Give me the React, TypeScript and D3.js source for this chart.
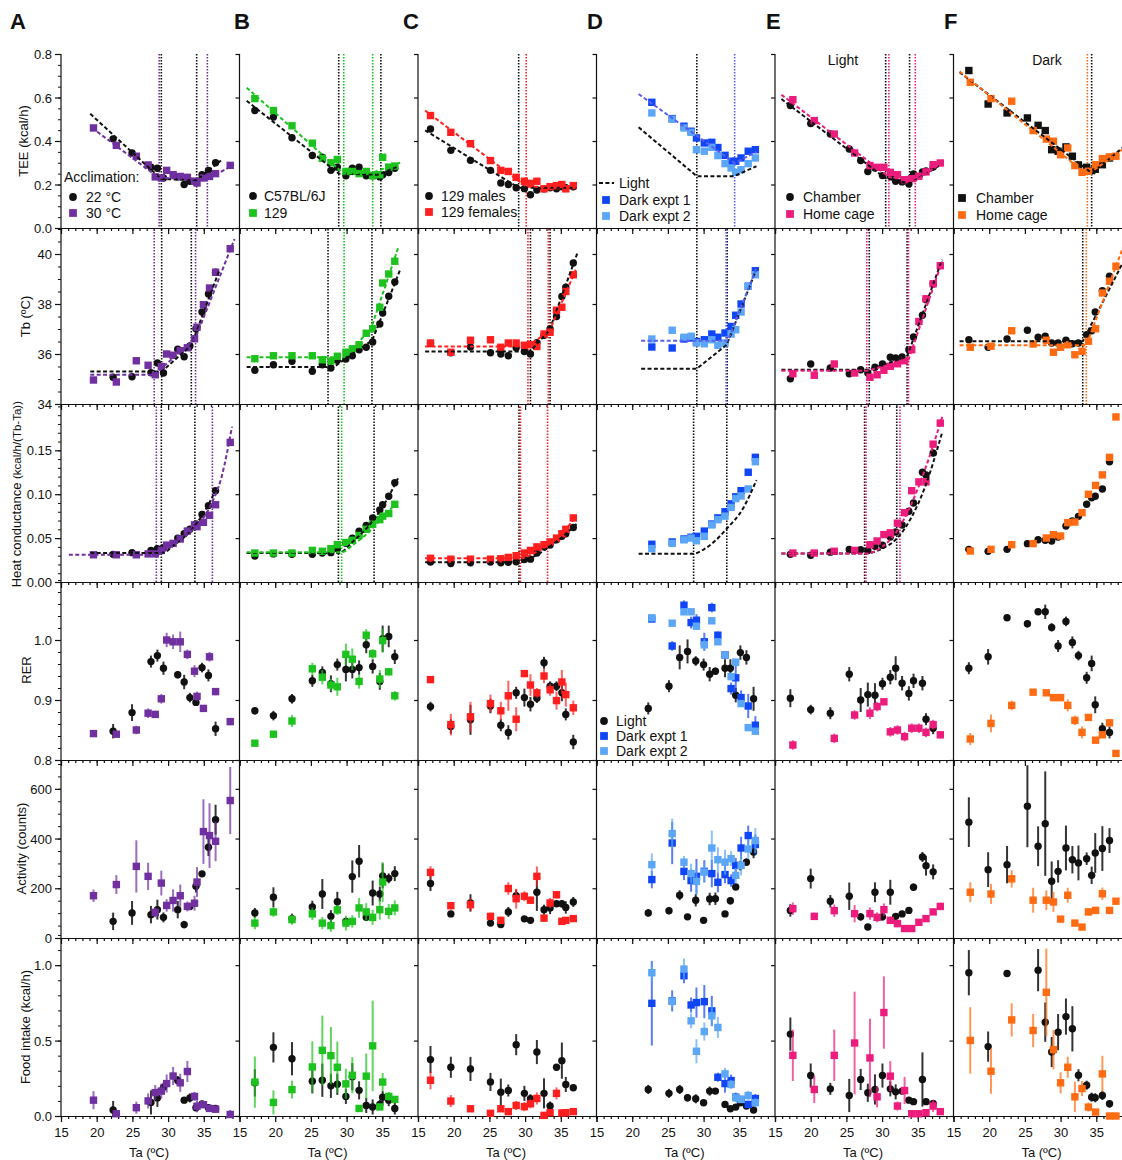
import React, { useEffect, useRef } from 'react';
import * as d3 from 'd3';

// colours
const BLACK = '#111111';
const PURPLE = '#7030a0';
const GREEN = '#1ec21e';
const RED = '#ff1f1f';
const BLUE1 = '#1046f5';
const BLUE2 = '#5ba6f7';
const BLUEFIT = '#5b5ff0';
const PINK = '#ec1c7c';
const ORANGE = '#ff6b12';

// ---------- A: acclimation 22 vs 30 °C
const taA22 = [22.3, 24.95, 27.6, 28.5, 29.35, 31.35, 32.25, 33.05, 33.9, 34.75, 35.65, 36.65];
const taA30 = [19.55, 22.75, 25.55, 27.2, 28.2, 29.05, 29.8, 30.7, 31.7, 32.7, 33.7, 34.05, 34.95, 35.8, 36.65, 38.7];
const teeA22 = [0.41, 0.345, 0.28, 0.275, 0.23, 0.235, 0.2, 0.215, 0.21, 0.245, 0.265, 0.3];
const teeA30 = [0.46, 0.38, 0.33, 0.29, 0.235, 0.23, 0.265, 0.245, 0.237, 0.233, 0.215, 0.207, 0.23, 0.237, 0.25, 0.288];
const tbA22 = [35.07, 35.09, 35.25, 35.64, 35.24, 36.19, 35.89, 36.32, 37.01, 37.68, 38.4, 39.27];
const tbA30 = [34.96, 34.88, 35.73, 35.55, 35.17, 35.5, 36.0, 35.95, 36.13, 36.25, 36.61, 37.07, 37.97, 38.64, 39.27, 40.21];
const hcA22 = [0.0315, 0.0334, 0.036, 0.038, 0.039, 0.05, 0.055, 0.06, 0.066, 0.077, 0.087, 0.104];
const hcA30 = [0.031, 0.031, 0.031, 0.032, 0.032, 0.036, 0.042, 0.044, 0.049, 0.058, 0.065, 0.063, 0.068, 0.076, 0.088, 0.159];
const rerA22 = [0.848, 0.879, 0.964, 0.974, 0.953, 0.942, 0.93, 0.904, 0.896, 0.954, 0.941, 0.852];
const rerA22e = [0.012, 0.014, 0.01, 0.01, 0.011, 0.006, 0.012, 0.008, 0.005, 0.008, 0.01, 0.012];
const rerA30 = [0.844, 0.843, 0.85, 0.878, 0.876, 0.902, 1.0, 0.997, 0.997, 0.976, 0.948, 0.906, 0.886, 0.972, 0.914, 0.864];
const rerA30e = [0.003, 0.003, 0.007, 0.008, 0.006, 0.008, 0.012, 0.012, 0.017, 0.008, 0.01, 0.008, 0.004, 0.008, 0.006, 0.006];
const actA22 = [67, 101, 94, 114, 83, 114, 54, 127, 208, 258, 365, 476];
const actA22e = [35, 48, 35, 40, 20, 35, 15, 10, 25, 8, 35, 60];
const actA30 = [170, 215, 288, 248, 103, 221, 131, 151, 170, 127, 140, 225, 428, 412, 389, 553];
const actA30e = [25, 38, 105, 55, 20, 50, 25, 45, 45, 20, 30, 60, 130, 130, 80, 135];
const foodA22 = [0.04, null, 0.09, 0.12, 0.19, 0.235, 0.105, 0.12, 0.055, 0.08, 0.055, 0.05];
const foodA22e = [0.06, 0, 0.08, 0.06, 0.03, 0.03, 0.02, 0.03, 0.02, 0.02, 0.015, 0.015];
const foodA30 = [0.105, 0.015, 0.055, 0.1, 0.155, 0.165, 0.215, 0.265, 0.22, 0.295, 0.13, 0.065, 0.075, 0.05, 0.045, 0.01];
const foodA30e = [0.06, 0.01, 0.04, 0.05, 0.05, 0.05, 0.06, 0.06, 0.06, 0.07, 0.03, 0.04, 0.02, 0.02, 0.02, 0.03];
const fitTeeA22 = [[19.1, 0.525], [29.05, 0.225], [34.0, 0.22], [37.4, 0.31]];
const fitTeeA30 = [[19.35, 0.46], [28.75, 0.23], [35.5, 0.225], [39.2, 0.29]];
const fitTbA22 = [[19.1, 35.3], [29.1, 35.3], [33.25, 36.35], [37.2, 39.37]];
const fitTbA30 = [[19.1, 35.17], [28.05, 35.17], [33.85, 36.64], [39.3, 40.6]];
const fitHcA22 = [[19.1, 0.033], [29.05, 0.033], [31, 0.043], [33, 0.057], [35, 0.079], [36.7, 0.105]];
const fitHcA30 = [[16.1, 0.031], [28.35, 0.031], [30, 0.038], [32, 0.05], [34, 0.064], [36, 0.088], [37.5, 0.12], [38.95, 0.177]];
const vlTeeA22 = [29.05, 34.0];
const vlTeeA30 = [28.75, 35.5];
const vlTbA22 = [29.1, 33.25];
const vlTbA30 = [28.05, 33.85];
const vlHcA22 = [29.05, 33.75];
const vlHcA30 = [28.35, 36.2];

// ---------- B: C57BL/6J vs 129
const taB = [17.15, 19.75, 22.35, 25.2, 26.6, 27.8, 28.7, 29.9, 30.8, 31.75, 32.75, 33.65, 34.65, 35.05, 35.9, 36.75];
const teeBb = [0.54, 0.51, 0.415, 0.333, 0.325, 0.265, 0.28, 0.24, 0.275, 0.28, 0.24, 0.24, 0.235, 0.245, 0.255, 0.275];
const teeBg = [0.595, 0.54, 0.47, 0.39, 0.32, 0.3, 0.315, 0.26, 0.26, 0.25, 0.26, 0.24, 0.245, 0.325, 0.28, 0.285];
const tbBb = [35.35, 35.57, 35.71, 35.31, 35.57, 35.44, 35.75, 35.8, 35.93, 36.17, 36.27, 36.48, 37.2, 37.64, 38.31, 38.88];
const tbBg = [35.81, 35.93, 35.93, 35.93, 35.77, 35.72, 35.91, 36.07, 36.21, 36.37, 36.83, 37.01, 37.87, 38.84, 39.2, 39.71];
const hcBb = [0.0296, 0.032, 0.0315, 0.0315, 0.033, 0.0334, 0.038, 0.044, 0.05, 0.058, 0.0645, 0.073, 0.082, 0.088, 0.0976, 0.113];
const hcBg = [0.033, 0.033, 0.033, 0.036, 0.035, 0.038, 0.0425, 0.045, 0.0475, 0.053, 0.06, 0.0657, 0.071, 0.075, 0.078, 0.0885];
const rerBb = [0.882, 0.874, 0.902, 0.932, 0.946, 0.927, 0.959, 0.951, 0.951, 0.954, 0.992, 0.956, 0.931, 1.002, 1.006, 0.972];
const rerBbe = [0.006, 0.008, 0.008, 0.01, 0.01, 0.014, 0.01, 0.02, 0.015, 0.012, 0.014, 0.012, 0.014, 0.022, 0.018, 0.012];
const rerBg = [0.828, 0.843, 0.865, 0.952, 0.938, 0.925, 0.922, 0.976, 0.968, 0.931, 1.008, 0.977, 0.935, 0.999, 0.947, 0.907];
const rerBge = [0.004, 0.005, 0.01, 0.01, 0.012, 0.01, 0.015, 0.018, 0.018, 0.012, 0.01, 0.008, 0.015, 0.02, 0.006, 0.008];
const actBb = [101, 164, 78, 125, 177, 87, 146, 67, 247, 309, 83, 181, 177, 250, 240, 259];
const actBbe = [20, 40, 20, 25, 60, 25, 40, 15, 65, 65, 15, 50, 30, 50, 20, 30];
const actBg = [60, 105, 74, 97, 60, 50, 113, 60, 67, 121, 105, 83, 114, 225, 107, 121];
const actBge = [25, 20, 20, 25, 25, 25, 20, 30, 25, 40, 35, 30, 40, 80, 30, 30];
const foodBb = [0.22, 0.455, 0.38, 0.23, 0.237, 0.2, 0.21, 0.13, 0.26, 0.17, 0.07, 0.06, 0.077, 0.125, 0.105, 0.05];
const foodBbe = [0.09, 0.1, 0.11, 0.08, 0.11, 0.08, 0.07, 0.05, 0.09, 0.06, 0.05, 0.05, 0.03, 0.04, 0.04, 0.04];
const foodBg = [0.225, 0.09, 0.175, 0.325, 0.435, 0.4, 0.323, 0.213, 0.27, 0.05, 0.264, 0.465, 0.06, 0.225, 0.13, 0.11];
const foodBge = [0.17, 0.08, 0.06, 0.17, 0.23, 0.19, 0.17, 0.1, 0.12, 0.01, 0.15, 0.3, 0.01, 0.06, 0.03, 0.02];
const fitTeeBb = [[16, 0.585], [28.9, 0.25], [34.4, 0.245], [37, 0.28]];
const fitTeeBg = [[16, 0.645], [29.6, 0.25], [33.7, 0.255], [37.5, 0.3]];
const fitTbBb = [[16, 35.48], [28.2, 35.48], [33.6, 36.55], [37.5, 39.37]];
const fitTbBg = [[16, 35.87], [29.65, 35.87], [33.4, 37.0], [37.3, 40.31]];
const fitHcBb = [[16, 0.033], [28.9, 0.033], [31, 0.047], [33, 0.063], [35, 0.085], [37.2, 0.118]];
const fitHcBg = [[16, 0.034], [29.3, 0.034], [31, 0.043], [33, 0.056], [35, 0.073], [37.2, 0.092]];
const vlTeeBb = [28.9, 34.8];
const vlTeeBg = [29.6, 33.65];
const vlTbBb = [27.4, 33.55];
const vlTbBg = [29.65];
const vlHcBb = [28.85, 33.85];
const vlHcBg = [29.3];

// ---------- C: 129 males vs females
const taC = [16.75, 19.6, 22.35, 25.15, 26.6, 27.65, 28.75, 29.9, 30.75, 31.65, 32.65, 33.5, 34.4, 35.15, 35.7, 36.75];
const teeCb = [0.455, 0.357, 0.311, 0.265, 0.207, 0.2, 0.185, 0.181, 0.153, 0.175, 0.18, 0.185, 0.18, 0.19, 0.185, 0.19];
const teeCr = [0.517, 0.44, 0.388, 0.31, 0.265, 0.26, 0.233, 0.215, 0.205, 0.215, 0.18, 0.19, 0.195, 0.2, 0.18, 0.195];
const tbCb = [36.42, 36.05, 36.28, 36.05, 36.0, 35.93, 36.25, 36.1, 36.0, 36.45, 36.75, 37.0, 37.5, 38.3, 38.67, 39.64];
const tbCr = [36.44, 36.07, 36.55, 36.57, 36.27, 36.44, 36.44, 36.35, 36.37, 36.3, 36.8, 36.87, 37.75, 37.87, 38.5, 39.17];
const hcCb = [0.0228, 0.021, 0.022, 0.0228, 0.022, 0.0225, 0.023, 0.0255, 0.026, 0.033, 0.04, 0.042, 0.048, 0.052, 0.055, 0.062];
const hcCr = [0.027, 0.026, 0.026, 0.026, 0.0265, 0.028, 0.03, 0.033, 0.036, 0.04, 0.0425, 0.0456, 0.05, 0.055, 0.06, 0.073];
const rerCb = [0.889, 0.856, 0.867, 0.89, 0.858, 0.846, 0.912, 0.904, 0.893, 0.903, 0.962, 0.923, 0.923, 0.912, 0.876, 0.83];
const rerCbe = [0.008, 0.012, 0.025, 0.012, 0.01, 0.012, 0.01, 0.015, 0.012, 0.008, 0.01, 0.008, 0.008, 0.014, 0.01, 0.012];
const rerCr = [0.934, 0.859, 0.872, 0.894, 0.882, 0.907, 0.868, 0.944, 0.925, 0.912, 0.94, 0.917, 0.899, 0.93, 0.909, 0.887];
const rerCre = [0.006, 0.018, 0.025, 0.015, 0.015, 0.025, 0.02, 0.006, 0.018, 0.008, 0.012, 0.01, 0.015, 0.02, 0.02, 0.012];
const actCb = [219, 97, 141, 60, 54, 105, 170, 77, 71, 184, 114, 121, 138, 138, 123, 145];
const actCbe = [30, 10, 35, 8, 10, 20, 25, 10, 10, 75, 20, 25, 10, 15, 25, 20];
const actCr = [264, 130, 134, 87, 71, 199, 158, 168, 152, 248, 80, 141, 174, 67, 71, 78];
const actCre = [25, 15, 25, 15, 15, 25, 40, 20, 15, 40, 15, 20, 15, 10, 10, 8];
const foodCb = [0.374, 0.323, 0.312, 0.226, 0.158, 0.169, 0.473, 0.15, 0.114, 0.424, 0.15, 0.066, 0.323, 0.367, 0.209, 0.187];
const foodCbe = [0.09, 0.07, 0.08, 0.06, 0.09, 0.04, 0.07, 0.05, 0.03, 0.08, 0.1, 0.03, 0.02, 0.12, 0.05, 0.02];
const foodCr = [0.237, 0.099, 0.048, 0.018, 0.048, 0.029, 0.07, 0.062, 0.081, 0.116, 0.004, 0.022, 0.15, 0.02, 0.022, 0.029];
const foodCre = [0.06, 0.04, 0.01, 0.01, 0.02, 0.01, 0.03, 0.03, 0.03, 0.04, 0.01, 0.01, 0.04, 0.01, 0.01, 0.01];
const fitTeeCb = [[16, 0.449], [29.1, 0.185], [37.2, 0.185]];
const fitTeeCr = [[16, 0.54], [30.15, 0.19], [37.2, 0.19]];
const fitTbCb = [[16, 36.1], [30.7, 36.1], [33.4, 36.95], [37.4, 40.1]];
const fitTbCr = [[16, 36.3], [30.4, 36.3], [33.45, 36.95], [37.1, 39.37]];
const fitHcCb = [[16, 0.0225], [29.15, 0.0225], [31, 0.028], [33, 0.038], [35, 0.05], [37.2, 0.066]];
const fitHcCr = [[16, 0.027], [29.35, 0.027], [31, 0.032], [33, 0.041], [35, 0.054], [37.1, 0.074]];
const vlTeeCb = [29.1];
const vlTeeCr = [30.15];
const vlTbCb = [30.75, 33.5];
const vlTbCr = [30.4, 33.25];
const vlHcCb = [29.15];
const vlHcCr = [29.35, 33.15];

// ---------- D: light vs dark experiments
const taDL = [22.25, 25.15, 26.65, 27.75, 28.9, 30.0, 30.85, 31.65, 33.0, 33.75, 34.5, 35.15, 36.0, 37.0];
const taDD = [22.75, 25.6, 27.25, 28.25, 29.0, 30.1, 31.15, 32.0, 33.0, 33.85, 34.5, 35.25, 36.25, 37.25];
const teeD1 = [0.578, 0.503, 0.468, 0.445, 0.414, 0.391, 0.394, 0.37, 0.334, 0.307, 0.307, 0.322, 0.353, 0.36];
const teeD2 = [0.529, 0.5, 0.46, 0.44, 0.36, 0.353, 0.371, 0.333, 0.296, 0.276, 0.256, 0.268, 0.296, 0.322];
const tbD1 = [36.28, 36.24, 36.6, 36.64, 36.5, 36.57, 36.8, 36.67, 36.84, 37.1, 37.55, 38.0, 38.71, 39.33];
const tbD2 = [36.6, 36.95, 36.67, 36.71, 36.44, 36.41, 36.57, 36.35, 36.44, 36.8, 36.97, 37.68, 38.71, 39.17];
const hcD1 = [0.043, 0.0456, 0.049, 0.051, 0.052, 0.058, 0.066, 0.073, 0.08, 0.089, 0.097, 0.104, 0.125, 0.142];
const hcD2 = [0.038, 0.044, 0.048, 0.05, 0.047, 0.052, 0.065, 0.071, 0.075, 0.085, 0.095, 0.098, 0.106, 0.137];
const rerDL = [0.886, 0.923, 0.971, 0.981, 0.965, 0.959, 0.943, 0.948, 0.953, 0.953, 0.908, 0.979, 0.971, 0.902];
const rerDLe = [0.01, 0.01, 0.02, 0.02, 0.008, 0.01, 0.012, 0.006, 0.015, 0.015, 0.012, 0.012, 0.012, 0.02];
const rerD1 = [1.035, 0.99, 1.058, 1.029, 1.033, 0.997, 1.054, 1.008, 0.975, 0.919, 0.937, 0.904, 0.89, 0.858];
const rerD1e = [0.005, 0.008, 0.008, 0.01, 0.01, 0.015, 0.008, 0.006, 0.006, 0.01, 0.025, 0.012, 0.02, 0.015];
const rerD2 = [1.037, 1.028, 1.047, 1.047, 1.023, 0.992, 1.032, 0.997, 0.975, 0.939, 0.963, 0.894, 0.854, 0.848];
const rerD2e = [0.005, 0.004, 0.004, 0.004, 0.004, 0.01, 0.004, 0.005, 0.005, 0.006, 0.006, 0.005, 0.004, 0.005];
const actDL = [101, 110, 172, 85, 152, 71, 157, 158, 97, 150, 205, 291, 305, 346];
const actDLe = [15, 15, 20, 10, 25, 8, 25, 25, 10, 15, 10, 20, 15, 25];
const actD1 = [235, 382, 268, 231, 248, 268, 259, 224, 255, 231, 292, 362, 412, 376];
const actD1e = [35, 85, 35, 45, 70, 45, 55, 40, 35, 25, 30, 45, 40, 40];
const actD2 = [295, 420, 305, 259, 228, 265, 362, 315, 305, 319, 252, 292, 358, 392];
const actD2e = [45, 60, 25, 40, 55, 40, 70, 50, 50, 30, 30, 40, 40, 50];
const foodDL = [0.176, 0.15, 0.176, 0.121, 0.114, 0.088, 0.165, 0.165, 0.077, 0.048, 0.059, 0.088, 0.066, 0.04];
const foodDLe = [0.03, 0.03, 0.03, 0.025, 0.03, 0.02, 0.03, 0.02, 0.015, 0.01, 0.01, 0.015, 0.012, 0.012];
const foodD1 = [0.747, 0.763, 0.93, 0.736, 0.752, 0.758, 0.697, 0.257, 0.215, 0.235, 0.125, 0.11, 0.077, 0.116];
const foodD1e = [0.28, 0.07, 0.05, 0.05, 0.1, 0.11, 0.1, 0.03, 0.06, 0.04, 0.03, 0.02, 0.02, 0.03];
const foodD2 = [0.95, 0.76, 0.974, 0.631, 0.429, 0.56, 0.664, 0.587, 0.279, 0.209, 0.121, 0.11, 0.136, 0.088];
const foodD2e = [0.06, 0.04, 0.07, 0.05, 0.08, 0.06, 0.07, 0.07, 0.04, 0.03, 0.02, 0.02, 0.03, 0.03];
const fitTeeDL = [[20.9, 0.463], [29.05, 0.238], [34.25, 0.238], [37.4, 0.284]];
const fitTeeDD = [[20.9, 0.616], [34.35, 0.299], [37.4, 0.35]];
const fitTbDL = [[21.25, 35.41], [29.05, 35.41], [33.25, 36.37], [37.4, 39.4]];
const fitTbDD = [[21.25, 36.53], [33.4, 36.53], [37.4, 39.44]];
const fitHcDL = [[20.9, 0.0323], [28.6, 0.0323], [30, 0.037], [31.5, 0.046], [33.25, 0.0608], [35.5, 0.0835], [37.4, 0.116]];
const vlTeeDL = [29.05];
const vlTeeDD = [34.35];
const vlTbDL = [29.05, 33.3];
const vlTbDD = [33.15];
const vlHcDL = [28.6, 33.25];

// ---------- E: light phase, chamber vs home cage
const taEb = [17.15, 20.0, 22.75, 25.4, 27.0, 28.0, 29.0, 30.05, 31.15, 31.9, 32.8, 33.75, 34.4, 35.65, 36.15, 37.15];
const taEp = [17.5, 20.5, 23.3, 26.15, 28.3, 29.3, 30.25, 31.15, 32.15, 33.15, 34.15, 35.15, 36.15, 37.15, 38.15];
const teeEb = [0.563, 0.48, 0.432, 0.363, 0.31, 0.26, 0.276, 0.241, 0.238, 0.215, 0.212, 0.202, 0.248, 0.258, 0.262, 0.28];
const teeEp = [0.59, 0.494, 0.432, 0.345, 0.287, 0.279, 0.279, 0.256, 0.245, 0.222, 0.227, 0.238, 0.258, 0.291, 0.299];
const tbEb = [35.01, 35.6, 35.44, 35.21, 35.37, 35.24, 35.47, 35.6, 35.87, 35.84, 35.88, 36.17, 36.68, 37.55, 38.17, 38.8];
const tbEp = [35.21, 35.15, 35.6, 35.24, 35.07, 35.17, 35.35, 35.51, 35.61, 35.73, 36.17, 37.3, 38.21, 38.81, 39.53];
const hcEb = [0.0315, 0.0304, 0.034, 0.037, 0.0368, 0.036, 0.0406, 0.0418, 0.0513, 0.057, 0.065, 0.0805, 0.09, 0.125, 0.122, 0.147];
const hcEp = [0.033, 0.033, 0.035, 0.036, 0.0425, 0.0467, 0.054, 0.056, 0.067, 0.079, 0.104, 0.114, 0.114, 0.157, 0.181];
const rerEb = [0.903, 0.884, 0.878, 0.943, 0.9, 0.909, 0.908, 0.927, 0.938, 0.953, 0.928, 0.911, 0.932, 0.928, 0.868, 0.853];
const rerEbe = [0.015, 0.008, 0.01, 0.012, 0.02, 0.02, 0.02, 0.01, 0.012, 0.02, 0.012, 0.012, 0.012, 0.012, 0.01, 0.01];
const rerEp = [0.825, null, 0.836, 0.875, 0.878, 0.889, 0.897, 0.847, 0.85, 0.839, 0.853, 0.853, 0.846, 0.859, 0.842];
const rerEpe = [0.008, 0, 0.008, 0.008, 0.01, 0.008, 0.005, 0.008, 0.008, 0.008, 0.008, 0.008, 0.008, 0.008, 0.006];
const actEb = [111, 239, 148, 168, 85, 44, 184, 85, 184, 87, 97, 111, 204, 326, 291, 266];
const actEbe = [25, 40, 25, 55, 15, 12, 40, 15, 50, 12, 10, 8, 15, 20, 40, 30];
const actEp = [118, 87, 110, 98, 98, 83, 114, 71, 58, 38, 38, 63, 78, 105, 127];
const actEpe = [25, 15, 25, 35, 25, 20, 25, 15, 15, 10, 5, 5, 8, 10, 15];
const foodEb = [0.543, 0.268, 0.18, 0.136, 0.242, 0.154, 0.176, 0.268, 0.18, 0.16, 0.165, 0.105, 0.095, 0.242, 0.095, 0.084];
const foodEbe = [0.11, 0.08, 0.04, 0.11, 0.07, 0.06, 0.1, 0.08, 0.05, 0.05, 0.02, 0.02, 0.02, 0.18, 0.02, 0.01];
const foodEp = [0.402, 0.176, 0.402, 0.484, 0.385, 0.127, 0.686, 0.264, 0.066, 0.169, 0.015, 0.015, 0.022, 0.066, 0.029];
const foodEpe = [0.17, 0.09, 0.17, 0.34, 0.26, 0.07, 0.24, 0.1, 0.03, 0.09, 0.01, 0.01, 0.01, 0.04, 0.01];
const fitTeeEb = [[15.9, 0.593], [30.5, 0.228], [33.85, 0.205], [38.2, 0.29]];
const fitTeeEp = [[15.9, 0.613], [30.95, 0.235], [34.65, 0.215], [38.3, 0.3]];
const fitTbEb = [[15.9, 35.37], [28.2, 35.37], [33.5, 35.9], [38.4, 39.77]];
const fitTbEp = [[15.9, 35.33], [27.85, 35.33], [33.7, 35.77], [38.4, 39.7]];
const fitHcEb = [[15.9, 0.0325], [27.55, 0.0325], [30, 0.038], [32, 0.049], [34, 0.072], [36, 0.108], [38.4, 0.17]];
const fitHcEp = [[15.9, 0.0325], [27.75, 0.0325], [30, 0.04], [32, 0.057], [34, 0.087], [36, 0.128], [38.5, 0.19]];
const vlTeeEb = [30.5, 33.85];
const vlTeeEp = [30.95, 34.65];
const vlTbEb = [28.2, 33.5];
const vlTbEp = [27.85, 33.7];
const vlHcEb = [27.55, 32.05];
const vlHcEp = [27.75, 32.5];

// ---------- F: dark phase, chamber vs home cage
const taFb = [17.15, 19.85, 22.5, 25.35, 26.85, 27.85, 28.75, 29.65, 30.75, 31.65, 32.5, 33.65, 34.35, 34.85, 35.85, 36.85];
const taFo = [17.35, 20.25, 23.15, 26.15, 28.0, 29.0, 30.0, 31.0, 32.0, 33.0, 33.9, 34.9, 35.85, 36.85, 37.75];
const teeFb = [0.724, 0.57, 0.529, 0.506, 0.472, 0.448, 0.36, 0.353, 0.373, 0.33, 0.29, 0.279, 0.264, 0.27, 0.291, 0.322];
const teeFo = [0.67, 0.595, 0.583, 0.448, 0.409, 0.399, 0.337, 0.368, 0.287, 0.256, 0.261, 0.291, 0.319, 0.327, 0.33];
const tbFb = [36.57, 36.27, 36.6, 36.95, 36.67, 36.71, 36.44, 36.44, 36.55, 36.41, 36.44, 36.77, 36.93, 37.68, 38.53, 39.11];
const tbFo = [36.27, 36.31, 36.93, 36.4, 36.55, 36.07, 36.27, 36.37, 35.97, 36.11, 36.51, 37.01, 38.44, 38.91, 39.51];
const hcFb = [0.0372, 0.0349, 0.0372, 0.0437, 0.0482, 0.0475, 0.0467, 0.0513, 0.0638, 0.0695, 0.0748, 0.0885, 0.096, 0.0976, 0.106, 0.137];
const hcFo = [0.0353, 0.0372, 0.0425, 0.0437, 0.0501, 0.0539, 0.0524, 0.0676, 0.0683, 0.079, 0.0999, 0.11, 0.122, 0.142, 0.188];
const rerFb = [0.953, 0.972, 1.037, 1.027, 1.047, 1.047, 1.021, 0.99, 1.031, 0.996, 0.974, 0.937, 0.961, 0.892, 0.852, 0.846];
const rerFbe = [0.01, 0.013, 0.004, 0.006, 0.005, 0.012, 0.007, 0.01, 0.008, 0.01, 0.008, 0.01, 0.013, 0.014, 0.01, 0.01];
const rerFo = [0.835, 0.861, 0.891, 0.913, 0.912, 0.904, 0.904, 0.891, 0.866, 0.846, 0.871, 0.833, 0.842, 0.862, 0.811];
const rerFoe = [0.01, 0.015, 0.008, 0.004, 0.004, 0.005, 0.006, 0.01, 0.008, 0.01, 0.005, 0.005, 0.005, 0.005, 0.005];
const actFb = [466, 275, 295, 530, 369, 460, 228, 268, 362, 315, 302, 319, 252, 342, 360, 392];
const actFbe = [100, 70, 75, 165, 80, 210, 80, 45, 90, 55, 70, 25, 35, 80, 90, 50];
const actFo = [184, 177, 238, 152, 152, 145, 76, 172, 60, 44, 105, 111, 178, 111, 148];
const actFoe = [40, 40, 35, 50, 40, 40, 10, 30, 10, 8, 15, 15, 25, 8, 10];
const foodFb = [0.95, 0.46, 0.945, null, 0.967, 0.622, 0.424, 0.556, 0.659, 0.578, 0.27, 0.204, 0.125, 0.121, 0.136, 0.081];
const foodFbe = [0.15, 0.1, 0.02, 0, 0.14, 0.13, 0.1, 0.12, 0.12, 0.15, 0.04, 0.03, 0.03, 0.03, 0.03, 0.025];
const foodFo = [0.501, 0.297, 0.637, 0.567, 0.82, 0.44, 0.22, 0.323, 0.127, 0.182, 0.059, 0.026, 0.279, 0.0, 0.0];
const foodFoe = [0.22, 0.15, 0.11, 0.11, 0.29, 0.13, 0.07, 0.07, 0.1, 0.05, 0.03, 0.01, 0.12, 0, 0];
const fitTeeFb = [[15.85, 0.716], [34.35, 0.253], [39.5, 0.39]];
const fitTeeFo = [[15.85, 0.72], [33.75, 0.245], [39.5, 0.38]];
const fitTbFb = [[15.85, 36.51], [33.1, 36.51], [38.8, 39.7]];
const fitTbFo = [[15.85, 36.35], [33.6, 36.35], [38.8, 40.3]];
const vlTeeFb = [34.35];
const vlTeeFo = [33.75];
const vlTbFb = [33.1];
const vlTbFo = [33.6];

const panelLetters = ['A', 'B', 'C', 'D', 'E', 'F'];
const yTitles = ['TEE (kcal/h)', 'Tb (ºC)', 'Heat conductance', 'RER', 'Activity (counts)', 'Food intake (kcal/h)'];
const xTickLabels = [15, 20, 25, 30, 35];

const FONT = "'Liberation Sans', Arial, Helvetica, sans-serif";
const COL0 = 61;
const COLW = 178.5;

const rows = [
  { top: 54, bottom: 228, domain: [0, 0.8], major: [0, 0.2, 0.4, 0.6, 0.8], minor: 0.05, fmt: '.1f', tx: 28 },
  { top: 229, bottom: 404, domain: [34, 41], major: [34, 36, 38, 40], minor: 0.5, fmt: 'd', tx: 30 },
  { top: 406.4, bottom: 582, domain: [0, 0.2], major: [0, 0.05, 0.1, 0.15], minor: 0.01, fmt: '.2f', tx: 21 },
  { top: 580, bottom: 760, domain: [0.8, 1.1], major: [0.8, 0.9, 1.0], minor: 0.02, fmt: '.1f', tx: 31 },
  { top: 759, bottom: 938, domain: [0, 720], major: [0, 200, 400, 600], minor: 50, fmt: 'd', tx: 26 },
  { top: 938, bottom: 1116, domain: [0, 1.18], major: [0, 0.5, 1.0], minor: 0.1, fmt: '.1f', tx: 30 },
];

const N = null;
const columns = [
  [
    { ta: taA22, color: BLACK, shape: 'c', vals: [teeA22, tbA22, hcA22, rerA22, actA22, foodA22], errs: [N, N, N, rerA22e, actA22e, foodA22e], fits: [fitTeeA22, fitTbA22, fitHcA22], vl: [vlTeeA22, vlTbA22, vlHcA22] },
    { ta: taA30, color: PURPLE, shape: 's', vals: [teeA30, tbA30, hcA30, rerA30, actA30, foodA30], errs: [N, N, N, rerA30e, actA30e, foodA30e], fits: [fitTeeA30, fitTbA30, fitHcA30], vl: [vlTeeA30, vlTbA30, vlHcA30] },
  ],
  [
    { ta: taB, color: BLACK, shape: 'c', vals: [teeBb, tbBb, hcBb, rerBb, actBb, foodBb], errs: [N, N, N, rerBbe, actBbe, foodBbe], fits: [fitTeeBb, fitTbBb, fitHcBb], vl: [vlTeeBb, vlTbBb, vlHcBb] },
    { ta: taB, color: GREEN, shape: 's', vals: [teeBg, tbBg, hcBg, rerBg, actBg, foodBg], errs: [N, N, N, rerBge, actBge, foodBge], fits: [fitTeeBg, fitTbBg, fitHcBg], vl: [vlTeeBg, vlTbBg, vlHcBg] },
  ],
  [
    { ta: taC, color: BLACK, shape: 'c', vals: [teeCb, tbCb, hcCb, rerCb, actCb, foodCb], errs: [N, N, N, rerCbe, actCbe, foodCbe], fits: [fitTeeCb, fitTbCb, fitHcCb], vl: [vlTeeCb, vlTbCb, vlHcCb] },
    { ta: taC, color: RED, shape: 's', vals: [teeCr, tbCr, hcCr, rerCr, actCr, foodCr], errs: [N, N, N, rerCre, actCre, foodCre], fits: [fitTeeCr, fitTbCr, fitHcCr], vl: [vlTeeCr, vlTbCr, vlHcCr] },
  ],
  [
    { ta: taDL, color: BLACK, shape: 'c', vals: [N, N, N, rerDL, actDL, foodDL], errs: [N, N, N, rerDLe, actDLe, foodDLe], fits: [fitTeeDL, fitTbDL, fitHcDL], vl: [vlTeeDL, vlTbDL, vlHcDL] },
    { ta: taDD, color: BLUE1, shape: 's', vals: [teeD1, tbD1, hcD1, rerD1, actD1, foodD1], errs: [N, N, N, rerD1e, actD1e, foodD1e], fits: [fitTeeDD, fitTbDD, N], vl: [vlTeeDD, vlTbDD, N], fitColor: BLUEFIT },
    { ta: taDD, color: BLUE2, shape: 's', vals: [teeD2, tbD2, hcD2, rerD2, actD2, foodD2], errs: [N, N, N, rerD2e, actD2e, foodD2e], fits: [N, N, N], vl: [N, N, N] },
  ],
  [
    { ta: taEb, color: BLACK, shape: 'c', vals: [teeEb, tbEb, hcEb, rerEb, actEb, foodEb], errs: [N, N, N, rerEbe, actEbe, foodEbe], fits: [fitTeeEb, fitTbEb, fitHcEb], vl: [vlTeeEb, vlTbEb, vlHcEb] },
    { ta: taEp, color: PINK, shape: 's', vals: [teeEp, tbEp, hcEp, rerEp, actEp, foodEp], errs: [N, N, N, rerEpe, actEpe, foodEpe], fits: [fitTeeEp, fitTbEp, fitHcEp], vl: [vlTeeEp, vlTbEp, vlHcEp] },
  ],
  [
    { ta: taFb, color: BLACK, shape: 'c', shape0: 's', vals: [teeFb, tbFb, hcFb, rerFb, actFb, foodFb], errs: [N, N, N, rerFbe, actFbe, foodFbe], fits: [fitTeeFb, fitTbFb, N], vl: [vlTeeFb, vlTbFb, N] },
    { ta: taFo, color: ORANGE, shape: 's', vals: [teeFo, tbFo, hcFo, rerFo, actFo, foodFo], errs: [N, N, N, rerFoe, actFoe, foodFoe], fits: [fitTeeFo, fitTbFo, N], vl: [vlTeeFo, vlTbFo, N] },
  ],
];

function marker(g: any, cx: number, cy: number, shape: string, color: string, size = 1) {
  if (shape === 'c') {
    g.append('circle').attr('cx', cx).attr('cy', cy).attr('r', 3.7 * size).attr('fill', color);
  } else {
    const s = 7.4 * size;
    g.append('rect').attr('x', cx - s / 2).attr('y', cy - s / 2).attr('width', s).attr('height', s).attr('fill', color);
  }
}

export default function App() {
  const ref = useRef<SVGSVGElement>(null);

  useEffect(() => {
    document.body.style.margin = '0';
    const svg = d3.select(ref.current);
    svg.selectAll('*').remove();
    const root = svg.append('g').attr('font-family', FONT);

    columns.forEach((col, ci) => {
      const left = COL0 + ci * COLW;
      const x = d3.scaleLinear().domain([15, 40]).range([left, left + COLW]);

      rows.forEach((row, ri) => {
        const y = d3.scaleLinear().domain(row.domain).range([row.bottom, row.top]);
        const isLast = ri === rows.length - 1;

        // x axis: minor and major ticks
        const gxm = root.append('g').attr('transform', `translate(0,${row.bottom})`)
          .call(d3.axisBottom(x).tickValues(d3.range(15, 41)).tickSize(3).tickSizeOuter(0).tickFormat(() => ''));
        const gx = root.append('g').attr('transform', `translate(0,${row.bottom})`)
          .call(d3.axisBottom(x).tickValues([15, 20, 25, 30, 35, 40]).tickSize(6).tickSizeOuter(0)
            .tickFormat((d: any) => (isLast && xTickLabels.includes(d) ? String(d) : '')));
        [gxm, gx].forEach(g => {
          g.selectAll('path,line').attr('stroke', BLACK).attr('stroke-width', 1.2);
          g.selectAll('text').attr('font-size', 13).attr('font-family', FONT).attr('fill', BLACK).attr('dy', '0.9em');
        });

        // y axis ticks
        const gy = root.append('g').attr('transform', `translate(${left},0)`)
          .call(d3.axisLeft(y).tickValues(row.major).tickSize(ci === 0 ? 6 : 4).tickSizeOuter(0)
            .tickFormat(ci === 0 ? (d3.format(row.fmt) as any) : () => ''));
        gy.select('.domain').remove();
        gy.selectAll('line').attr('stroke', BLACK).attr('stroke-width', 1.2);
        gy.selectAll('text').attr('font-size', 13).attr('font-family', FONT).attr('fill', BLACK).attr('dy', '0.36em');
        if (ci === 0) {
          const nMinor = Math.round((row.domain[1] - row.domain[0]) / row.minor);
          const minors = d3.range(0, nMinor + 1).map(k => row.domain[0] + k * row.minor);
          const gmn = root.append('g').attr('transform', `translate(${left},0)`)
            .call(d3.axisLeft(y).tickValues(minors).tickSize(3).tickSizeOuter(0).tickFormat(() => ''));
          gmn.select('.domain').remove();
          gmn.selectAll('line').attr('stroke', BLACK).attr('stroke-width', 1);
        }

        const panel = root.append('g');

        // vertical threshold lines
        col.forEach((s: any) => {
          const v = ri < 3 ? s.vl[ri] : null;
          if (!v) return;
          panel.selectAll(null).data(v).enter().append('line')
            .attr('x1', (d: any) => x(d)).attr('x2', (d: any) => x(d))
            .attr('y1', row.top).attr('y2', row.bottom)
            .attr('stroke', s.fitColor || s.color).attr('stroke-width', 1.6)
            .attr('stroke-dasharray', '1.6 1.4');
        });

        // points with error bars
        col.forEach((s: any) => {
          const vals = s.vals[ri];
          if (!vals) return;
          const errs = s.errs[ri];
          const pts = s.ta.map((t: number, i: number) => ({ t, v: vals[i], e: errs ? errs[i] : 0 }))
            .filter((d: any) => d.v !== null && d.v !== undefined);
          const [lo, hi] = row.domain;
          panel.selectAll(null).data(pts.filter((d: any) => d.e > 0)).enter().append('line')
            .attr('x1', (d: any) => x(d.t)).attr('x2', (d: any) => x(d.t))
            .attr('y1', (d: any) => y(Math.max(lo, d.v - d.e)))
            .attr('y2', (d: any) => y(Math.min(hi, d.v + d.e)))
            .attr('stroke', s.color).attr('stroke-width', 2)
            .attr('stroke-opacity', s.color === BLACK ? 0.85 : 0.7);
          const shape = ri === 0 && s.shape0 ? s.shape0 : s.shape;
          pts.forEach((d: any) => marker(panel, x(d.t), y(d.v), shape, s.color));
        });

        // fitted lines
        col.forEach((s: any) => {
          const f = ri < 3 ? s.fits[ri] : null;
          if (!f) return;
          const line = d3.line<number[]>().x(d => x(d[0])).y(d => y(d[1]))
            .curve(ri === 2 ? d3.curveMonotoneX : d3.curveLinear);
          panel.append('path').attr('d', line(f as any))
            .attr('fill', 'none').attr('stroke', s.fitColor || s.color)
            .attr('stroke-width', 2).attr('stroke-dasharray', '4 2.4');
        });
      });

      // column y-axis line
      root.append('line').attr('x1', left).attr('x2', left)
        .attr('y1', rows[0].top).attr('y2', rows[rows.length - 1].bottom)
        .attr('stroke', BLACK).attr('stroke-width', 1.2);

      // panel letter
      root.append('text').attr('x', [10, 234, 403, 587, 766, 944][ci]).attr('y', 29)
        .attr('font-size', 22).attr('font-weight', 'bold').attr('fill', BLACK)
        .text(panelLetters[ci]);

      // x title
      root.append('text').attr('x', left + 88).attr('y', 1157)
        .attr('text-anchor', 'middle').attr('font-size', 13).attr('fill', BLACK)
        .text('Ta (ºC)');
    });

    // y titles
    rows.forEach((row, ri) => {
      const cy = (row.top + row.bottom) / 2;
      const t = root.append('text')
        .attr('transform', `translate(${row.tx},${cy}) rotate(-90)`)
        .attr('text-anchor', 'middle').attr('font-size', 13).attr('fill', BLACK);
      if (ri === 2) {
        t.append('tspan').text(yTitles[ri] + ' ');
        t.append('tspan').attr('font-size', 11.5).text('(kcal/h/(Tb-Ta))');
      } else {
        t.text(yTitles[ri]);
      }
    });

    // legends
    const leg = root.append('g').attr('font-size', 14).attr('fill', BLACK);
    const item = (mx: number, my: number, shape: string, color: string, label: string, tx: number) => {
      marker(leg, mx, my, shape, color, 1.05);
      leg.append('text').attr('x', tx).attr('y', my + 5).text(label);
    };
    leg.append('text').attr('x', 64).attr('y', 182).text('Acclimation:');
    item(73, 197, 'c', BLACK, '22 °C', 86);
    item(73, 213, 's', PURPLE, '30 °C', 86);
    item(253, 196, 'c', BLACK, 'C57BL/6J', 264);
    item(253, 213, 's', GREEN, '129', 264);
    item(429, 196, 'c', BLACK, '129 males', 441);
    item(429, 212, 's', RED, '129 females', 441);
    leg.append('line').attr('x1', 599).attr('x2', 614).attr('y1', 183).attr('y2', 183)
      .attr('stroke', BLACK).attr('stroke-width', 2).attr('stroke-dasharray', '4 2.4');
    leg.append('text').attr('x', 619).attr('y', 188).text('Light');
    item(606, 200, 's', BLUE1, 'Dark expt 1', 619);
    item(606, 216, 's', BLUE2, 'Dark expt 2', 619);
    item(790, 197, 'c', BLACK, 'Chamber', 803);
    item(790, 214, 's', PINK, 'Home cage', 803);
    item(962, 198, 's', BLACK, 'Chamber', 976);
    item(962, 215, 's', ORANGE, 'Home cage', 976);
    leg.append('text').attr('x', 843).attr('y', 65).attr('text-anchor', 'middle').text('Light');
    leg.append('text').attr('x', 1047).attr('y', 65).attr('text-anchor', 'middle').text('Dark');
    item(604, 721, 'c', BLACK, 'Light', 616);
    item(604, 736, 's', BLUE1, 'Dark expt 1', 616);
    item(604, 751, 's', BLUE2, 'Dark expt 2', 616);
  }, []);

  return <svg ref={ref} width={1122} height={1160} style={{ display: 'block', background: '#ffffff' }} />;
}
